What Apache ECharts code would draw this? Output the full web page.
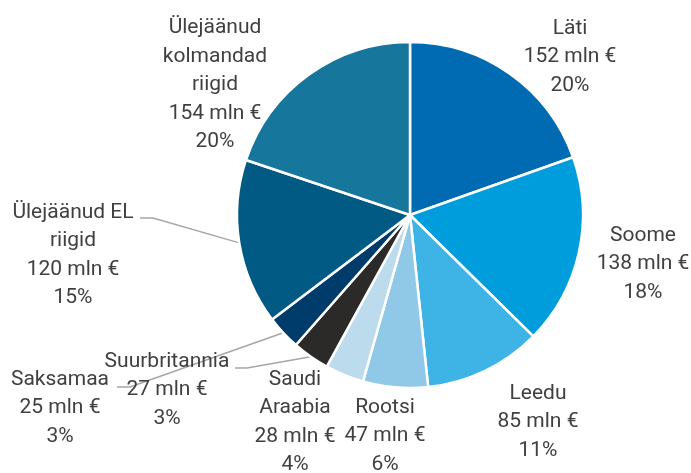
<!DOCTYPE html>
<html>
<head>
<meta charset="utf-8">
<script src="https://cdn.jsdelivr.net/npm/echarts@6/dist/echarts.min.js"></script>
<style>html,body{margin:0;padding:0;background:#fff}#c{width:691px;height:473px}</style>
</head>
<body>
<div id="c"></div>
<script>
const categories = ['Läti', 'Soome', 'Leedu', 'Rootsi', 'Saudi\nAraabia', 'Suurbritannia', 'Saksamaa', 'Ülejäänud EL\nriigid', 'Ülejäänud\nkolmandad\nriigid'];
const values = [152, 138, 85, 47, 28, 27, 25, 120, 154];
const unit = 'mln €';

const colors = ['#006ab3', '#009ddd', '#3db3e6', '#8fc9e7', '#bcdbed', '#2b2a29', '#003c6b', '#005a84', '#17769c'];
const leader = [false, false, false, false, false, true, true, true, false];
// label centres and leader line bends (layout only)
const labelPos = [
  {x: 570, y: 57}, {x: 643, y: 264}, {x: 538, y: 422}, {x: 385, y: 436},
  {x: 295, y: 422}, {x: 167, y: 390}, {x: 60, y: 408}, {x: 73, y: 255}, {x: 215, y: 85}
];
const lineBends = {
  5: [[247, 368], [235, 368]],
  6: [[130, 387], [117, 387]],
  7: [[153, 218], [140, 218]]
};

const total = values.reduce((a, b) => a + b, 0);
const data = categories.map((n, i) => ({
  name: n, value: values[i],
  itemStyle: {color: colors[i]},
  labelLine: {show: leader[i]}
}));

const chart = echarts.init(document.getElementById('c'), null, {renderer: 'canvas'});
chart.setOption({
  animation: false,
  series: [{
    type: 'pie',
    center: [410, 215],
    radius: 173,
    startAngle: 90,
    clockwise: true,
    data: data,
    itemStyle: {borderColor: '#fff', borderWidth: 2.5},
    label: {
      show: true,
      position: 'outside',
      fontFamily: 'Roboto',
      fontSize: 21,
      lineHeight: 28.5,
      color: '#404040',
      align: 'center',
      overflow: 'none',
      width: 200,
      formatter: p => p.name + '\n' + p.value + ' ' + unit + '\n' + Math.round(p.value / total * 100) + '%'
    },
    labelLine: {show: true, lineStyle: {color: '#a6a6a6', width: 1.5}, smooth: false},
    labelLayout: function (params) {
      const i = params.dataIndex;
      const r = {x: labelPos[i].x, y: labelPos[i].y, align: 'center', verticalAlign: 'middle'};
      if (lineBends[i] && params.labelLinePoints) {
        r.labelLinePoints = [params.labelLinePoints[0], lineBends[i][0], lineBends[i][1]];
      }
      return r;
    }
  }]
});
</script>
</body>
</html>
